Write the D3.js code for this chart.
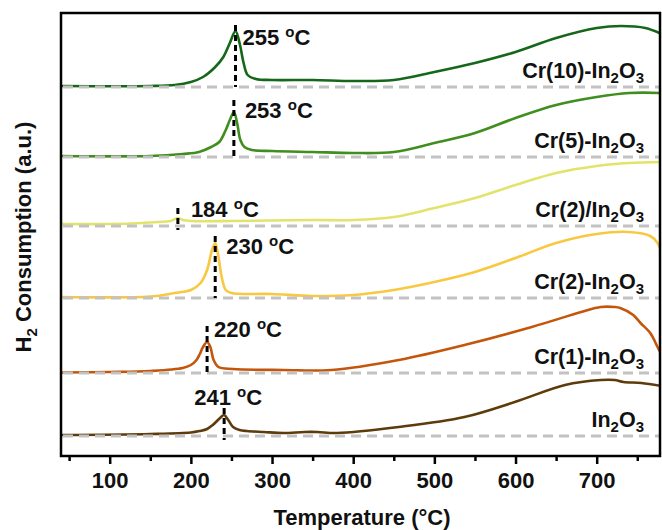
<!DOCTYPE html>
<html>
<head>
<meta charset="utf-8">
<script src="https://cdn.jsdelivr.net/npm/d3@7"></script>
<style>
  html, body { margin: 0; padding: 0; background: #fff; }
  svg { display: block; font-family: "Liberation Sans", Arial, sans-serif; font-weight: bold; }
</style>
</head>
<body>
<svg id="chart" width="662" height="530"></svg>
<script>
// series names, bottom to top
const names = ["In2O3", "Cr(1)-In2O3", "Cr(2)-In2O3", "Cr(2)/In2O3", "Cr(5)-In2O3", "Cr(10)-In2O3"]
// vertical offsets of each trace (a.u.)
const offsets = [20, 83, 158, 230, 299, 369]

// temperatures (°C) and signal above baseline (a.u.)
const tIn2O3 = [40, 150, 200, 211, 220, 227, 236, 241, 246, 252, 260, 269, 290, 314, 340, 356, 380, 456, 537, 599, 661, 705, 722, 733, 755, 780]
const vIn2O3 = [1, 2, 3.5, 5, 7, 11, 18, 21, 16, 9, 6, 5, 4, 3, 4, 4, 3, 9, 19, 34, 51, 56, 56, 54, 53, 50]

const tCr1 = [40, 100, 150, 190, 200, 207, 211, 215, 220, 224, 228, 234, 252, 314, 373, 456, 537, 620, 681, 705, 722, 729, 745, 754, 766, 775, 780]
const vCr1 = [0.5, 1, 2, 5, 8, 13, 19, 26, 31, 26, 13, 6, 4, 3, 3, 13, 28, 46, 61, 66, 66, 65, 58, 50, 40, 26, 18]

const tCr2 = [40, 150, 180, 200, 212, 220, 226, 230, 234, 238, 243, 250, 300, 350, 400, 450, 500, 550, 600, 650, 700, 740, 766, 775, 780]
const vCr2 = [1, 1.5, 5, 8, 15, 28, 48, 55, 41, 21, 8, 5, 4, 2, 3, 8, 16, 26, 40, 55, 64, 66, 62, 55, 45]

const tCr2Imp = [40, 100, 140, 160, 175, 184, 190, 200, 250, 300, 350, 400, 450, 500, 550, 600, 650, 700, 740, 780]
const vCr2Imp = [2, 2, 3, 4, 5, 8, 6, 5, 5, 5.5, 6, 6, 9, 18, 28, 41, 53, 60, 63, 64]

const tCr5 = [40, 150, 190, 210, 225, 235, 243, 248, 253, 257, 261, 266, 275, 300, 350, 400, 450, 500, 550, 600, 650, 700, 740, 780]
const vCr5 = [1, 1, 3, 5, 10, 15, 27, 37, 45, 34, 17, 10, 7, 6, 5, 4, 5, 14, 24, 39, 52, 60, 64, 64]

const tCr10 = [40, 150, 180, 200, 215, 230, 240, 248, 255, 260, 265, 270, 280, 300, 350, 400, 450, 500, 550, 600, 650, 700, 730, 760, 780]
const vCr10 = [1, 1, 2, 5, 10, 20, 30, 44, 56, 44, 24, 12, 8, 7, 7, 6, 7, 15, 24, 35, 49, 59, 61, 59, 53]

// reduction peak markers
const peakTemps = [241, 220, 230, 184, 253, 255]
const markerTop = [28, 47, 62, 18, 57, 62]
const markerBottom = [-4, 0, 0, -4, 0, 0]

const xTicks = [100, 200, 300, 400, 500, 600, 700]
const xMinorTicks = [50, 150, 250, 350, 450, 550, 650, 750]

const series = [
  [tIn2O3, vIn2O3], [tCr1, vCr1], [tCr2, vCr2], [tCr2Imp, vCr2Imp], [tCr5, vCr5], [tCr10, vCr10]
]
const colors = ["#5e3b0b", "#c4560c", "#f8c940", "#e3e36c", "#3f8e1e", "#15681a"]
// peak label placement (px from marker top)
const labelShift = [[4, -3, "middle"], [7, 11, "start"], [11, 18, "start"], [13, 9, "start"], [11, 18, "start"], [7, 20, "start"]]

const svg = d3.select("#chart")
const mLeft = 61, mRight = 660, mTop = 13, mBottom = 456

const x = d3.scaleLinear().domain([40, 778]).range([mLeft, mRight])
const y = d3.scaleLinear().domain([0, 443]).range([mBottom, mTop])

svg.append("defs").append("clipPath").attr("id", "clip")
  .append("rect").attr("x", mLeft).attr("y", mTop).attr("width", mRight - mLeft).attr("height", mBottom - mTop)

const plot = svg.append("g").attr("clip-path", "url(#clip)")

const line = d3.line()
  .x((d) => x(d[0]))
  .y((d) => y(d[1]))
  .curve(d3.curveCatmullRom.alpha(0.5))

// traces
series.forEach(([ts, vs], i) => {
  const pts = ts.map((t, j) => [t, vs[j] + offsets[i]])
  plot.append("path")
    .datum(pts)
    .attr("fill", "none")
    .attr("stroke", colors[i])
    .attr("stroke-width", 2.6)
    .attr("stroke-linejoin", "round")
    .attr("d", line)
})

// grey dashed baselines
plot.selectAll(".base")
  .data(offsets)
  .enter()
  .append("line")
  .attr("class", "base")
  .attr("x1", mLeft + 2)
  .attr("x2", mRight)
  .attr("y1", (d) => y(d))
  .attr("y2", (d) => y(d))
  .attr("stroke", "#c2c2c2")
  .attr("stroke-width", 3)
  .attr("stroke-dasharray", "10,6")

// peak markers
peakTemps.forEach((t, i) => {
  plot.append("line")
    .attr("x1", x(t)).attr("x2", x(t))
    .attr("y1", y(offsets[i] + markerTop[i]))
    .attr("y2", y(offsets[i] + markerBottom[i]))
    .attr("stroke", "#000")
    .attr("stroke-width", 3)
    .attr("stroke-dasharray", "6,4")

  const s = labelShift[i]
  const txt = svg.append("text")
    .attr("x", x(t) + s[0])
    .attr("y", y(offsets[i] + markerTop[i]) + s[1])
    .attr("text-anchor", s[2])
    .attr("font-size", 22)
    .attr("fill", "#111")
  txt.append("tspan").text(t + " ")
  txt.append("tspan").attr("font-size", 15).attr("dy", -8).text("o")
  txt.append("tspan").attr("dy", 8).text("C")
})

// series labels
names.forEach((n, i) => {
  const txt = svg.append("text")
    .attr("x", 644)
    .attr("y", y(offsets[i]) - 9)
    .attr("text-anchor", "end")
    .attr("font-size", 21.5)
    .attr("fill", "#111")
  const m = n.match(/^(.*In)2O3$/)
  txt.append("tspan").text(m[1])
  txt.append("tspan").attr("font-size", 15).attr("dy", 5).text("2")
  txt.append("tspan").attr("dy", -5).text("O")
  txt.append("tspan").attr("font-size", 15).attr("dy", 5).text("3")
})

// frame
svg.append("rect")
  .attr("x", mLeft).attr("y", mTop)
  .attr("width", mRight - mLeft).attr("height", mBottom - mTop)
  .attr("fill", "none")
  .attr("stroke", "#000")
  .attr("stroke-width", 2.5)

// x axis
const axis = svg.append("g").attr("transform", `translate(0,${mBottom})`)
axis.call(d3.axisBottom(x).tickValues(xTicks).tickSize(8).tickSizeOuter(0).tickPadding(8))
axis.select(".domain").remove()
axis.selectAll(".tick line").attr("stroke", "#000").attr("stroke-width", 2.5)
axis.selectAll(".tick text")
  .attr("font-size", 22)
  .attr("font-family", "'Liberation Sans', Arial, sans-serif")
  .attr("font-weight", "bold")
  .attr("fill", "#111")

const minor = svg.append("g").attr("transform", `translate(0,${mBottom})`)
minor.call(d3.axisBottom(x).tickValues(xMinorTicks).tickSize(5).tickSizeOuter(0).tickFormat(() => ""))
minor.select(".domain").remove()
minor.selectAll(".tick line").attr("stroke", "#000").attr("stroke-width", 2.5)

// axis titles
svg.append("text")
  .attr("x", 362)
  .attr("y", 525)
  .attr("text-anchor", "middle")
  .attr("font-size", 22)
  .attr("fill", "#111")
  .text("Temperature (°C)")

const yt = svg.append("text")
  .attr("transform", "translate(31,237) rotate(-90)")
  .attr("text-anchor", "middle")
  .attr("font-size", 22)
  .attr("fill", "#111")
yt.append("tspan").text("H")
yt.append("tspan").attr("font-size", 15).attr("dy", 6).text("2")
yt.append("tspan").attr("dy", -6).text(" Consumption (a.u.)")
</script>
</body>
</html>
